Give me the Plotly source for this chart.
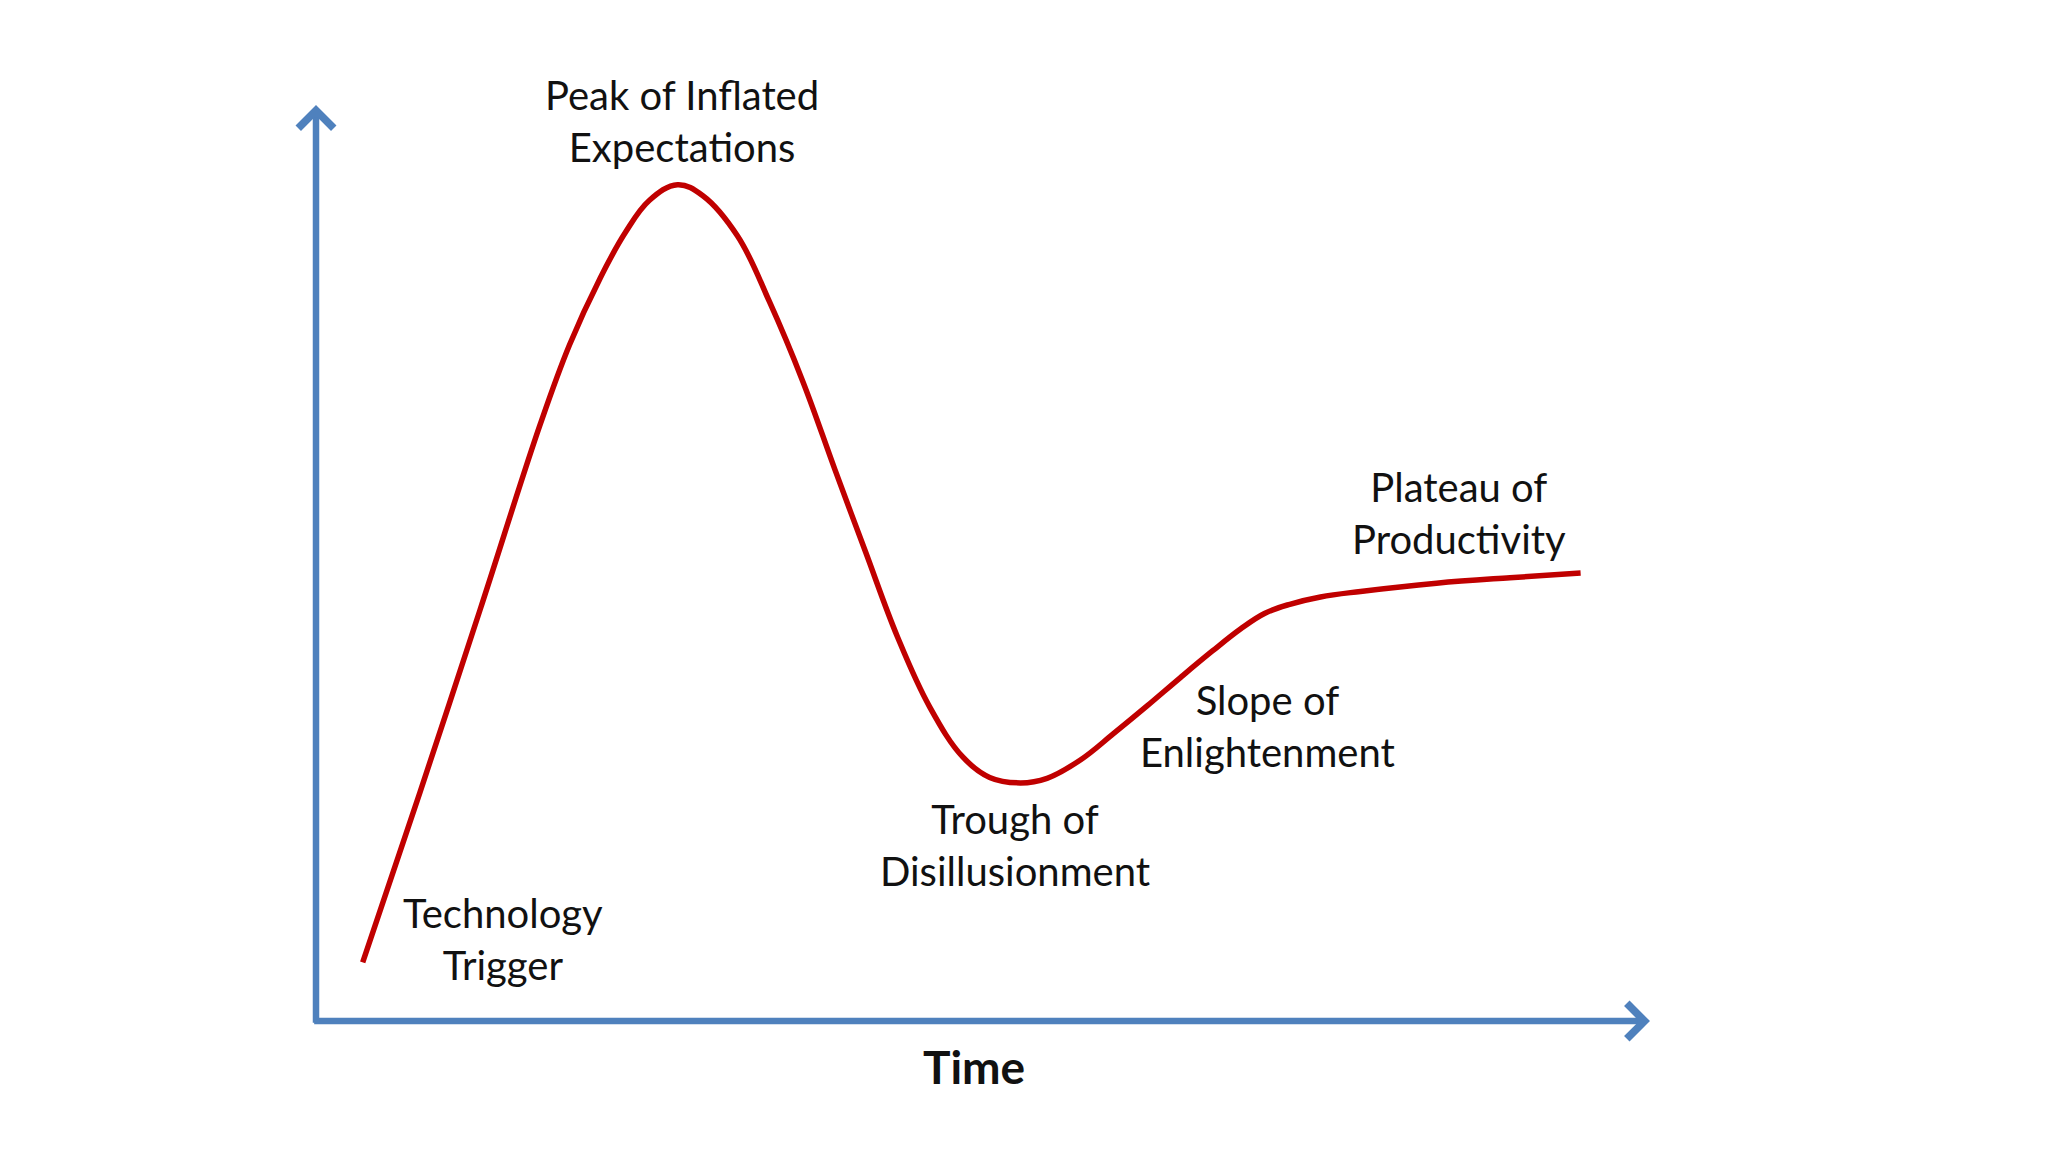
import plotly.graph_objects as go

# Hype-cycle curve (time, expectations) in axis units: x 0..100, y 0..100
time_vals = [3.5, 7.8, 12.3, 16.8, 19.0, 21.3, 23.2, 25.0, 27.1, 29.0, 31.6, 34.0,
             36.5, 38.9, 41.2, 43.6, 46.0, 48.5, 50.5, 52.8, 54.8, 57.3, 59.8,
             62.3, 64.8, 67.2, 69.3, 71.1, 73.0, 75.3, 78.3, 84.0, 89.5, 94.8]
expect_vals = [6.4, 25.0, 44.9, 65.1, 73.8, 81.1, 86.1, 89.6, 91.3, 90.1, 85.7, 78.5,
               69.8, 60.2, 51.2, 41.9, 34.3, 28.8, 26.6, 26.0, 26.5, 28.5, 31.4,
               34.4, 37.5, 40.4, 42.8, 44.5, 45.5, 46.3, 46.9, 47.8, 48.4, 48.9]

# Phase labels and their positions (axis units)
phase_labels = ["Peak of Inflated<br>Expectations", "Technology<br>Trigger",
                "Trough of<br>Disillusionment", "Slope of<br>Enlightenment",
                "Plateau of<br>Productivity"]
label_x = [27.4, 14.0, 52.4, 71.3, 85.7]
label_y = [98.3, 9.0, 19.2, 32.2, 55.5]

axis_title = "Time"
axis_title_pos = (49.3, -5.0)

RED = "#C00000"
BLUE = "#4F81BD"
FONT = "Lato, 'Open Sans', sans-serif"

fig = go.Figure()
fig.add_trace(go.Scatter(
    x=time_vals, y=expect_vals, mode="lines",
    line=dict(color=RED, width=5.5, shape="spline", smoothing=1.1),
    hoverinfo="skip", showlegend=False, cliponaxis=False))

annotations = []
# axes as arrows
annotations.append(dict(x=100, y=0, ax=-0.25, ay=0, xref="x", yref="y", axref="x", ayref="y",
                        text="", showarrow=True, arrowhead=4, arrowwidth=6.5, arrowsize=1.05,
                        arrowcolor=BLUE, standoff=0, startstandoff=0))
annotations.append(dict(x=0, y=100, ax=0, ay=-0.35, xref="x", yref="y", axref="x", ayref="y",
                        text="", showarrow=True, arrowhead=4, arrowwidth=6.5, arrowsize=1.05,
                        arrowcolor=BLUE, standoff=0, startstandoff=0))
for t, lx, ly in zip(phase_labels, label_x, label_y):
    annotations.append(dict(x=lx, y=ly, xref="x", yref="y", text=t, showarrow=False,
                            xanchor="center", yanchor="middle", align="center",
                            font=dict(family=FONT, size=40, color="#111111")))
annotations.append(dict(x=axis_title_pos[0], y=axis_title_pos[1], xref="x", yref="y",
                        text="<b>" + axis_title + "</b>", showarrow=False,
                        xanchor="center", yanchor="middle",
                        font=dict(family=FONT, size=46, color="#111111")))

fig.update_layout(
    width=2032, height=1136,
    margin=dict(l=308, r=390, t=97, b=13, pad=0),
    paper_bgcolor="white", plot_bgcolor="white",
    xaxis=dict(range=[0, 100], visible=False, fixedrange=True),
    yaxis=dict(range=[-12, 100], visible=False, fixedrange=True),
    annotations=annotations,
    showlegend=False,
)

fig.write_html("out.html")
